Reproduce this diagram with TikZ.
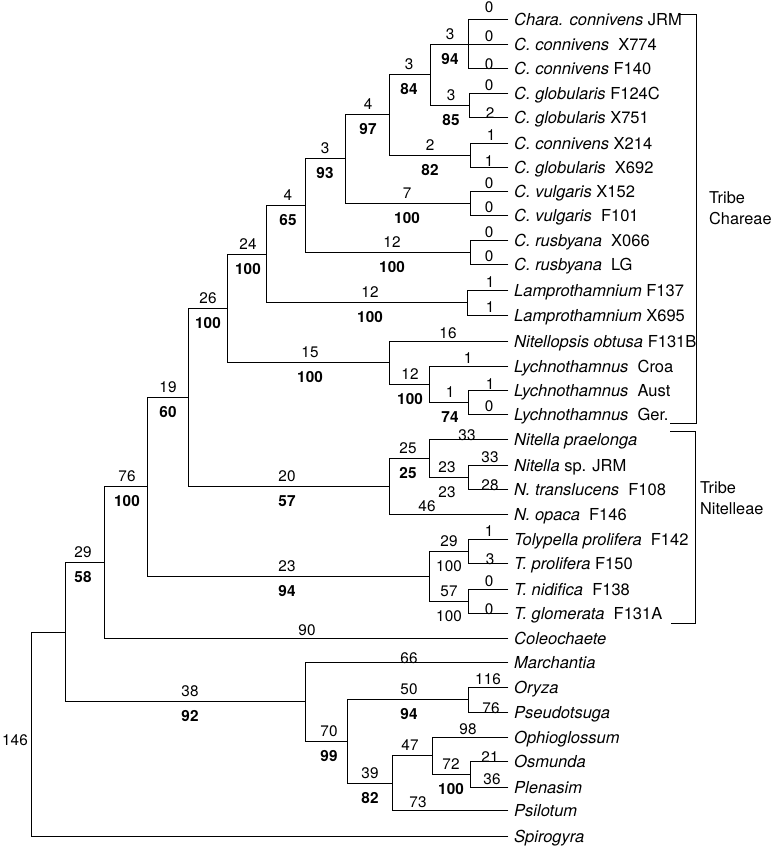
\documentclass[tikz,border=0pt]{standalone}
\usepackage{fontspec}
\setmainfont{TeX Gyre Heros}
\newcommand{\mkleaf}[3]{\coordinate (#1) at (508,#2); \node[nm] (#1t) at (514,#2+6.5) {#3};}
\newcommand{\brl}[6]{\node[num] (#1a) at (#2,#3-5) {#4}; \node[#6] (#1b) at (#2,#3+20) {#5};}
\newcommand{\llab}[5]{\node[num] (#1) at (#2,#3+#4) {#5};}
\begin{document}
\begin{tikzpicture}[x=1pt,y=-1pt,
  br/.style={line width=0.85pt, line cap=rect},
  nm/.style={font=\fontsize{16.5}{18}\selectfont, anchor=base west, inner sep=0pt},
  num/.style={font=\fontsize{15.3}{17}\selectfont, anchor=base, inner sep=0pt},
  bnum/.style={font=\fontsize{15.3}{17}\selectfont\bfseries, anchor=base, inner sep=0pt},
  tribe/.style={font=\fontsize{16.3}{18}\selectfont, anchor=base west, inner sep=0pt}]
\useasboundingbox (0,0) rectangle (772,846);
% leaves
\mkleaf{l1}{19}{\textit{Chara. connivens} JRM}
\mkleaf{l2}{44}{\textit{C. connivens}\ \ X774}
\mkleaf{l3}{68}{\textit{C. connivens} F140}
\mkleaf{l4}{93}{\textit{C. globularis} F124C}
\mkleaf{l5}{117}{\textit{C. globularis} X751}
\mkleaf{l6}{143}{\textit{C. connivens} X214}
\mkleaf{l7}{167}{\textit{C. globularis}\ \ X692}
\mkleaf{l8}{191}{\textit{C. vulgaris} X152}
\mkleaf{l9}{215}{\textit{C. vulgaris}\ \ F101}
\mkleaf{l10}{240}{\textit{C. rusbyana}\ \ X066}
\mkleaf{l11}{264}{\textit{C. rusbyana}\ \ LG}
\mkleaf{l12}{290}{\textit{Lamprothamnium} F137}
\mkleaf{l13}{315}{\textit{Lamprothamnium} X695}
\mkleaf{l14}{341}{\textit{Nitellopsis obtusa} F131B}
\mkleaf{l15}{366}{\textit{Lychnothamnus}\ \ Croa}
\mkleaf{l16}{390}{\textit{Lychnothamnus}\ \ Aust}
\mkleaf{l17}{414}{\textit{Lychnothamnus}\ \ Ger.}
\mkleaf{l18}{439}{\textit{Nitella praelonga}}
\mkleaf{l19}{465}{\textit{Nitella} sp. JRM}
\mkleaf{l20}{489}{\textit{N. translucens}\ \ F108}
\mkleaf{l21}{514}{\textit{N. opaca}\ \ F146}
\mkleaf{l22}{539}{\textit{Tolypella prolifera}\ \ F142}
\mkleaf{l23}{563}{\textit{T. prolifera} F150}
\mkleaf{l24}{589}{\textit{T. nidifica}\ \ F138}
\mkleaf{l25}{613}{\textit{T. glomerata}\ \ F131A}
\mkleaf{l26}{638}{\textit{Coleochaete}}
\mkleaf{l27}{662}{\textit{Marchantia}}
\mkleaf{l28}{687}{\textit{Oryza}}
\mkleaf{l29}{712}{\textit{Pseudotsuga}}
\mkleaf{l30}{737}{\textit{Ophioglossum}}
\mkleaf{l31}{761}{\textit{Osmunda}}
\mkleaf{l32}{787}{\textit{Plenasim}}
\mkleaf{l33}{810}{\textit{Psilotum}}
\mkleaf{l34}{836}{\textit{Spirogyra}}
% internal nodes
\coordinate (cA) at (468,44);
\coordinate (cB) at (469,105);
\coordinate (cC) at (430,74.5);
\coordinate (cD) at (470,155);
\coordinate (cE) at (389,114.75);
\coordinate (cF) at (470,203);
\coordinate (cG) at (345,158.9);
\coordinate (cH) at (470,252);
\coordinate (cI) at (305,205.4);
\coordinate (cJ) at (467,302.5);
\coordinate (cK) at (266,254);
\coordinate (cL) at (468,402);
\coordinate (cM) at (429,384);
\coordinate (cN) at (389,362.5);
\coordinate (cO) at (227,308);
\coordinate (cP) at (468,477);
\coordinate (cQ) at (429,458);
\coordinate (cR) at (389,486);
\coordinate (cS) at (188,397);
\coordinate (cT) at (468,551);
\coordinate (cU) at (468,601);
\coordinate (cV) at (429,576);
\coordinate (cW) at (147,486.5);
\coordinate (cX) at (104,562);
\coordinate (cY) at (468,699.5);
\coordinate (cZ) at (470,774);
\coordinate (cAA) at (432,755.5);
\coordinate (cAB) at (392,783);
\coordinate (cAC) at (347,741);
\coordinate (cAD) at (305,701.5);
\coordinate (cAE) at (65,632);
\coordinate (rt) at (31,734);
% branches
\draw[br] (cA) |- (l1) (cA) |- (l2) (cA) |- (l3)
  (cB) |- (l4) (cB) |- (l5)
  (cC) |- (cA) (cC) |- (cB)
  (cD) |- (l6) (cD) |- (l7)
  (cE) |- (cC) (cE) |- (cD)
  (cF) |- (l8) (cF) |- (l9)
  (cG) |- (cE) (cG) |- (cF)
  (cH) |- (l10) (cH) |- (l11)
  (cI) |- (cG) (cI) |- (cH)
  (cJ) |- (l12) (cJ) |- (l13)
  (cK) |- (cI) (cK) |- (cJ)
  (cL) |- (l16) (cL) |- (l17)
  (cM) |- (l15) (cM) |- (cL)
  (cN) |- (l14) (cN) |- (cM)
  (cO) |- (cK) (cO) |- (cN)
  (cP) |- (l19) (cP) |- (l20)
  (cQ) |- (l18) (cQ) |- (cP)
  (cR) |- (cQ) (cR) |- (l21)
  (cS) |- (cO) (cS) |- (cR)
  (cT) |- (l22) (cT) |- (l23)
  (cU) |- (l24) (cU) |- (l25)
  (cV) |- (cT) (cV) |- (cU)
  (cW) |- (cS) (cW) |- (cV)
  (cX) |- (cW) (cX) |- (l26)
  (cY) |- (l28) (cY) |- (l29)
  (cZ) |- (l31) (cZ) |- (l32)
  (cAA) |- (l30) (cAA) |- (cZ)
  (cAB) |- (cAA) (cAB) |- (l33)
  (cAC) |- (cY) (cAC) |- (cAB)
  (cAD) |- (l27) (cAD) |- (cAC)
  (cAE) |- (cX) (cAE) |- (cAD)
  (rt) |- (cAE) (rt) |- (l34);
% internal branch labels
\brl{bA}{450}{44}{3}{94}{bnum}
\brl{bB}{451}{105}{3}{85}{bnum}
\brl{bC}{409}{74.5}{3}{84}{bnum}
\brl{bD}{430}{155}{2}{82}{bnum}
\brl{bE}{368}{114.75}{4}{97}{bnum}
\brl{bF}{407}{203}{7}{100}{bnum}
\brl{bG}{325}{158.9}{3}{93}{bnum}
\brl{bH}{392}{252}{12}{100}{bnum}
\brl{bI}{288}{205.4}{4}{65}{bnum}
\brl{bJ}{370}{302.5}{12}{100}{bnum}
\brl{bK}{248}{254}{24}{100}{bnum}
\brl{bL}{450}{402}{1}{74}{bnum}
\brl{bM}{410}{384}{12}{100}{bnum}
\brl{bN}{310}{362.5}{15}{100}{bnum}
\brl{bO}{208}{308}{26}{100}{bnum}
\brl{bP}{447}{477}{23}{23}{num}
\brl{bQ}{408}{458}{25}{25}{bnum}
\brl{bR}{287}{486}{20}{57}{bnum}
\brl{bS}{168}{397}{19}{60}{bnum}
\brl{bT}{449}{551}{29}{100}{num}
\brl{bU}{449}{601}{57}{100}{num}
\brl{bV}{287}{576}{23}{94}{bnum}
\brl{bW}{127}{486.5}{76}{100}{bnum}
\brl{bX}{83}{562}{29}{58}{bnum}
\brl{bY}{409}{699.5}{50}{94}{bnum}
\brl{bZ}{451}{774}{72}{100}{bnum}
\brl{bAB}{370}{783}{39}{82}{bnum}
\brl{bAC}{329}{741}{70}{99}{bnum}
\brl{bAD}{190}{701.5}{38}{92}{bnum}
\node[num] (bAA) at (410,750.5) {47};
\node[num] (rl) at (15,745) {146};
% leaf branch labels
\llab{n1}{489}{19}{-7}{0}
\llab{n2}{489}{44}{-3}{0}
\llab{n3}{489}{68}{1}{0}
\llab{n4}{489}{93}{-3}{0}
\llab{n5}{490}{117}{1}{2}
\llab{n6}{491}{143}{-3}{1}
\llab{n7}{489}{167}{-1}{1}
\llab{n8}{489}{191}{-3}{0}
\llab{n9}{489}{215}{-3}{0}
\llab{n10}{489}{240}{-3}{0}
\llab{n11}{489}{264}{-3}{0}
\llab{n12}{490}{290}{-3}{1}
\llab{n13}{490}{315}{-3}{1}
\llab{n14}{448}{341}{-3}{16}
\llab{n15}{468}{366}{-3}{1}
\llab{n16}{490}{390}{-1}{1}
\llab{n17}{489}{414}{-3}{0}
\llab{n18}{467}{439}{1}{33}
\llab{n19}{490}{465}{-3}{33}
\llab{n20}{490}{489}{1}{28}
\llab{n21}{427}{514}{-3}{46}
\llab{n22}{489}{539}{-3}{1}
\llab{n23}{490}{563}{1}{3}
\llab{n24}{489}{589}{-3}{0}
\llab{n25}{489}{613}{1}{0}
\llab{n26}{307}{638}{-3}{90}
\llab{n27}{409}{662}{1}{66}
\llab{n28}{488}{687}{-3}{116}
\llab{n29}{491}{712}{1}{76}
\llab{n30}{468}{737}{-3}{98}
\llab{n31}{490}{761}{1}{21}
\llab{n32}{492}{787}{-3}{36}
\llab{n33}{418}{810}{-3}{73}
% tribe brackets
\coordinate (ca1) at (678,14); \coordinate (ca2) at (696,14);
\coordinate (ca3) at (696,423); \coordinate (ca4) at (670,423);
\draw[br] (ca1) -- (ca2) -- (ca3) -- (ca4);
\coordinate (ni1) at (670,431); \coordinate (ni2) at (695,431);
\coordinate (ni3) at (695,623); \coordinate (ni4) at (671,623);
\draw[br] (ni1) -- (ni2) -- (ni3) -- (ni4);
\node[tribe] (tc1) at (709,203) {Tribe};
\node[tribe] (tc2) at (709,224) {Chareae};
\node[tribe] (tn1) at (700,493) {Tribe};
\node[tribe] (tn2) at (700,514) {Nitelleae};
\end{tikzpicture}
\end{document}
